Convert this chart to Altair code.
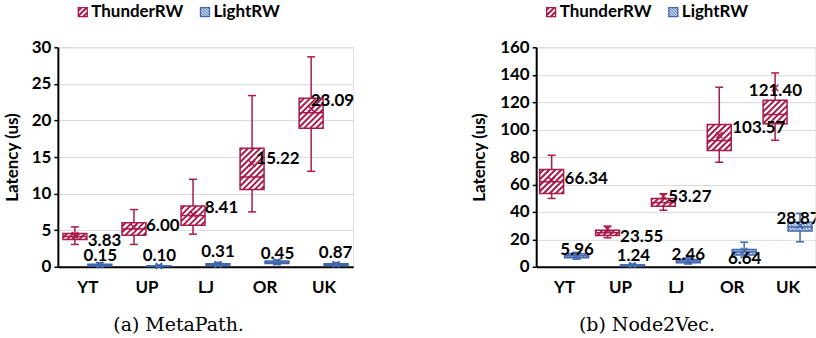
import json
import math

import altair as alt
import pandas as pd

CATEGORIES = ["YT", "UP", "LJ", "OR", "UK"]
SYSTEMS = ["ThunderRW", "LightRW"]

# ---- (a) MetaPath latency (us) ----
MP_TRW_LOW = [3.05, 3.05, 4.46, 7.50, 13.05]
MP_TRW_Q1 = [3.74, 4.32, 5.69, 10.55, 18.95]
MP_TRW_MED = [4.14, 5.18, 7.00, 12.27, 21.05]
MP_TRW_Q3 = [4.55, 6.00, 8.32, 16.20, 23.05]
MP_TRW_HIGH = [5.45, 7.82, 11.96, 23.40, 28.70]
MP_TRW_MEAN = [4.30, 5.40, 7.20, 14.10, 21.60]
MP_TRW_LABEL = [3.83, 6.00, 8.41, 15.22, 23.09]

MP_LRW_LOW = [0.02, 0.00, 0.10, 0.30, 0.10]
MP_LRW_Q1 = [0.12, 0.04, 0.18, 0.45, 0.18]
MP_LRW_MED = [0.22, 0.07, 0.28, 0.60, 0.28]
MP_LRW_Q3 = [0.35, 0.14, 0.40, 0.78, 0.42]
MP_LRW_HIGH = [0.55, 0.22, 0.60, 0.95, 0.58]
MP_LRW_MEAN = [0.25, 0.10, 0.31, 0.65, 0.32]
MP_LRW_LABEL = [0.15, 0.10, 0.31, 0.45, 0.87]

# ---- (b) Node2Vec latency (us) ----
NV_TRW_LOW = [49.8, 21.1, 41.2, 76.2, 92.2]
NV_TRW_Q1 = [53.4, 22.8, 44.2, 84.7, 104.2]
NV_TRW_MED = [62.0, 24.8, 46.8, 92.0, 111.0]
NV_TRW_Q3 = [70.9, 26.7, 49.8, 103.7, 121.4]
NV_TRW_HIGH = [81.3, 29.6, 53.2, 130.9, 141.3]
NV_TRW_MEAN = [63.0, 27.5, 51.4, 96.0, 130.4]
NV_TRW_LABEL = [66.34, 23.55, 53.27, 103.57, 121.40]

NV_LRW_LOW = [5.5, 0.3, 2.0, 7.0, 18.2]
NV_LRW_Q1 = [6.6, 0.6, 3.0, 8.6, 26.0]
NV_LRW_MED = [8.0, 1.0, 4.2, 10.8, 29.0]
NV_LRW_Q3 = [9.5, 1.4, 5.3, 12.6, 32.5]
NV_LRW_HIGH = [10.5, 2.0, 6.5, 17.9, 38.8]
NV_LRW_MEAN = [8.2, 1.2, 4.3, 11.5, 30.0]
NV_LRW_LABEL = [5.96, 1.24, 2.46, 6.64, 28.87]

# label placement: (dx, dy) in pixels from (box centre, value)
MP_TRW_NUDGE = [(29.7, 1.1), (28.9, 2.0), (28.5, 1.4), (26.0, 2.3), (21.3, 2.3)]
MP_LRW_NUDGE = [(0.5, -10.9), (0.5, -11.3), (0.0, -13.7), (0.5, -10.4), (-0.5, -8.9)]
NV_TRW_NUDGE = [(34.7, 2.5), (34.3, 1.4), (26.5, 1.9), (39.7, 2.7), (0.3, -10.1)]
NV_LRW_NUDGE = [(0.5, -9.5), (1.0, -10.3), (0.0, -9.6), (0.5, 0.4), (-2.0, -9.0)]

# ---- styling ----
RED = "#A81B4B"
BLUE = "#4067AD"
LIGHT_BLUE = "#d3ddf0"
FONT = "Lato"
SERIF = "DejaVu Serif"
PLOT_H = 220
BOX_OFFSET = 12.5   # px from category centre
BOX_HALF = 12.0     # px half box width
CAP_HALF = 4.0      # px half whisker cap width
HATCH = {"ThunderRW": (6.0, 1), "LightRW": (3.2, -1)}  # (spacing px, direction)
TEXT_SHIFT = 1.0


def hatch_segments(x0, x1, y0, y1, pxx, pxy, spacing, direction):
    """Diagonal hatch lines clipped to a rectangle, returned in data units."""
    X0, X1, Y0, Y1 = x0 * pxx, x1 * pxx, y0 * pxy, y1 * pxy
    segs = []
    if direction > 0:  # "/" lines: Y = X - c
        c = math.ceil((X0 - Y1) / spacing) * spacing
        while c < X1 - Y0:
            xa, xb = max(X0, Y0 + c), min(X1, Y1 + c)
            if xb > xa:
                segs.append((xa / pxx, (xa - c) / pxy, xb / pxx, (xb - c) / pxy))
            c += spacing
    else:  # "\" lines: Y = c - X
        c = math.ceil((X0 + Y0) / spacing) * spacing
        while c < X1 + Y1:
            xa, xb = max(X0, c - Y1), min(X1, c - Y0)
            if xb > xa:
                segs.append((xa / pxx, (c - xa) / pxy, xb / pxx, (c - xb) / pxy))
            c += spacing
    return segs


def legend_layers(cx):
    one = pd.DataFrame({"k": [0]})
    layers = []
    items = [("ThunderRW", RED, "white", cx - 100.5), ("LightRW", BLUE, LIGHT_BLUE, cx + 22.0)]
    for name, col, fill, x in items:
        top, size = -39.7, 9.0
        layers.append(
            alt.Chart(one).mark_rect(fill=fill, stroke=col, strokeWidth=1.3).encode(
                x=alt.value(x), x2=alt.value(x + size), y=alt.value(top), y2=alt.value(top + size)
            )
        )
        spacing, direction = HATCH[name]
        segs = hatch_segments(x, x + size, -(top + size), -top, 1, 1, spacing * 0.9, direction)
        hdf = pd.DataFrame([dict(a=a, b=-b, c=c, d=-d) for a, b, c, d in segs])
        layers.append(
            alt.Chart(hdf).mark_rule(color=col, strokeWidth=2.0 if direction > 0 else 1.0).encode(
                x=alt.X("a:Q", scale=None), y=alt.Y("b:Q", scale=None),
                x2="c:Q", y2="d:Q",
            )
        )
        layers.append(
            alt.Chart(one).mark_text(
                font=FONT, fontWeight="bold", fontSize=17, align="left", baseline="middle", color="black"
            ).encode(x=alt.value(x + size + 4.0), y=alt.value(-35.5), text=alt.value(name))
        )
    return layers


def build_panel(trw, lrw, trw_nudge, lrw_nudge, ymax, ystep, width, title, title_dx,
                legend_cx, ytitle_x, clip_labels):
    n = len(CATEGORIES)
    pxx = width / n
    pxy = PLOT_H / ymax
    boxes, hatch, labels = [], [], []
    for name, stats, nudges, sign in (
        (SYSTEMS[0], trw, trw_nudge, -1),
        (SYSTEMS[1], lrw, lrw_nudge, 1),
    ):
        low, q1, med, q3, high, mean, lab = stats
        spacing, direction = HATCH[name]
        for i, cat in enumerate(CATEGORIES):
            c = i + 0.5 + sign * BOX_OFFSET / pxx
            x0, x1 = c - BOX_HALF / pxx, c + BOX_HALF / pxx
            boxes.append(dict(
                system=name, cat=cat, c=c, x0=x0, x1=x1,
                k0=c - CAP_HALF / pxx, k1=c + CAP_HALF / pxx,
                low=low[i], q1=q1[i], med=med[i], q3=q3[i], high=high[i], mean=mean[i],
            ))
            for a, b, cc, d in hatch_segments(x0, x1, q1[i], q3[i], pxx, pxy, spacing, direction):
                hatch.append(dict(system=name, hx=a, hy=b, hx2=cc, hy2=d))
            dx, dy = nudges[i]
            labels.append(dict(
                system=name,
                lx=c + dx / pxx,
                ly=lab[i] - (dy + TEXT_SHIFT) / pxy,
                text=f"{lab[i]:.2f}",
            ))
    box_df = pd.DataFrame(boxes)
    hatch_df = pd.DataFrame(hatch)
    label_df = pd.DataFrame(labels)

    xs = alt.Scale(domain=[0, n], nice=False, zero=False)
    ys = alt.Scale(domain=[0, ymax], nice=False)
    stroke_scale = alt.Scale(domain=SYSTEMS, range=[RED, BLUE])
    fill_scale = alt.Scale(domain=SYSTEMS, range=["white", LIGHT_BLUE])
    width_scale = alt.Scale(domain=SYSTEMS, range=[2.0, 1.0])

    label_expr = json.dumps(CATEGORIES) + "[floor(datum.value)]"
    x_axis = alt.Axis(
        values=[i + 0.5 for i in range(n)], labelExpr=label_expr, title=None,
        grid=False, ticks=False, domainColor="black", domainWidth=2,
        labelFont=FONT, labelFontWeight="bold", labelFontSize=17, labelColor="black",
        labelPadding=13,
    )
    y_axis = alt.Axis(
        values=list(range(0, ymax + 1, ystep)), title="Latency (us)",
        grid=True, gridColor="#d9d9d9", gridWidth=1,
        domainColor="black", domainWidth=2, tickColor="black", tickSize=4, tickWidth=1.5,
        labelFont=FONT, labelFontWeight="bold", labelFontSize=17, labelColor="black",
        labelPadding=3,
        titleFont=FONT, titleFontWeight="bold", titleFontSize=17, titleColor="black",
        titleX=ytitle_x, titleY=PLOT_H / 2, titleAlign="center", titleBaseline="middle",
    )

    def X(field):
        return alt.X(field, type="quantitative", scale=xs, axis=x_axis)

    def Y(field):
        return alt.Y(field, type="quantitative", scale=ys, axis=y_axis)

    sys_stroke = alt.Stroke("system:N", scale=stroke_scale, legend=None)
    sys_color = alt.Color("system:N", scale=stroke_scale, legend=None)

    base = alt.Chart(box_df)
    background = base.mark_rect().encode(
        x=X("x0"), x2="x1:Q", y=Y("q1"), y2="q3:Q",
        fill=alt.Fill("system:N", scale=fill_scale, legend=None),
    )
    hatch_layer = alt.Chart(hatch_df).mark_rule().encode(
        x=X("hx"), x2="hx2:Q", y=Y("hy"), y2="hy2:Q",
        color=sys_color,
        strokeWidth=alt.StrokeWidth("system:N", scale=width_scale, legend=None),
    )
    outline = base.mark_rect(fillOpacity=0, strokeWidth=1.5).encode(
        x=X("x0"), x2="x1:Q", y=Y("q1"), y2="q3:Q", stroke=sys_stroke,
    )
    whisk_lo = base.mark_rule(strokeWidth=1.5).encode(
        x=X("c"), y=Y("low"), y2="q1:Q", color=sys_color,
    )
    whisk_hi = base.mark_rule(strokeWidth=1.5).encode(
        x=X("c"), y=Y("q3"), y2="high:Q", color=sys_color,
    )
    cap_lo = base.mark_rule(strokeWidth=1.5).encode(
        x=X("k0"), x2="k1:Q", y=Y("low"), color=sys_color,
    )
    cap_hi = base.mark_rule(strokeWidth=1.5).encode(
        x=X("k0"), x2="k1:Q", y=Y("high"), color=sys_color,
    )
    median = base.mark_rule(strokeWidth=1.5).encode(
        x=X("x0"), x2="x1:Q", y=Y("med"), color=sys_color,
    )
    means = base.mark_point(
        shape="M-1,-1L1,1M-1,1L1,-1", size=40, strokeWidth=1.5, filled=False, opacity=1
    ).encode(x=X("c"), y=Y("mean"), stroke=sys_stroke)
    text_mark = dict(font=FONT, fontWeight="bold", fontSize=17, align="center",
                     baseline="middle", color="black")
    if clip_labels:
        text_mark["clip"] = True
    texts = alt.Chart(label_df).mark_text(**text_mark).encode(
        x=X("lx"), y=Y("ly"), text="text:N",
    )

    layers = [background, hatch_layer, outline, whisk_lo, whisk_hi, cap_lo, cap_hi,
              median, means, texts] + legend_layers(legend_cx)
    return alt.layer(*layers).properties(
        width=width,
        height=PLOT_H,
        title=alt.TitleParams(
            title, orient="bottom", anchor="middle", frame="group", dx=title_dx, offset=20,
            font=SERIF, fontSize=19, fontWeight="normal", color="black", baseline="top",
        ),
    )


left = build_panel(
    (MP_TRW_LOW, MP_TRW_Q1, MP_TRW_MED, MP_TRW_Q3, MP_TRW_HIGH, MP_TRW_MEAN, MP_TRW_LABEL),
    (MP_LRW_LOW, MP_LRW_Q1, MP_LRW_MED, MP_LRW_Q3, MP_LRW_HIGH, MP_LRW_MEAN, MP_LRW_LABEL),
    MP_TRW_NUDGE, MP_LRW_NUDGE, 30, 5, 296, "(a) MetaPath.", -27, 121.0, -45, False,
)
right = build_panel(
    (NV_TRW_LOW, NV_TRW_Q1, NV_TRW_MED, NV_TRW_Q3, NV_TRW_HIGH, NV_TRW_MEAN, NV_TRW_LABEL),
    (NV_LRW_LOW, NV_LRW_Q1, NV_LRW_MED, NV_LRW_Q3, NV_LRW_HIGH, NV_LRW_MEAN, NV_LRW_LABEL),
    NV_TRW_NUDGE, NV_LRW_NUDGE, 160, 20, 280, "(b) Node2Vec.", -29, 111.0, -57, True,
)

chart = alt.hconcat(left, right, spacing=183.5, bounds="flush").properties(
    padding={"left": 3, "top": 2, "right": 0, "bottom": 0},
    autosize=alt.AutoSizeParams(type="pad"),
).configure_view(stroke="transparent", strokeWidth=0).configure(background="white")

chart.save("out.html", embed_options={"renderer": "svg", "actions": False})
